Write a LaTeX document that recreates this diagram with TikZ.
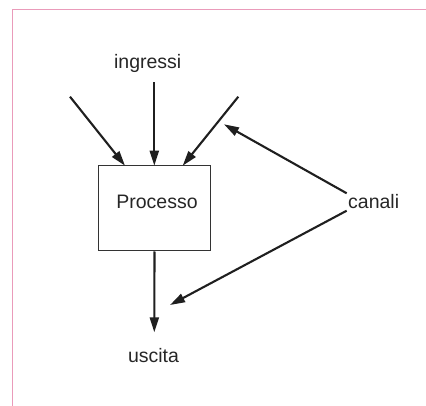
\documentclass[tikz,border=0pt]{standalone}
\usepackage{fontspec}
\setmainfont{Liberation Sans}
\usetikzlibrary{arrows.meta}
\definecolor{framepink}{RGB}{234,155,186}
\tikzset{
  lbl/.style={inner sep=0pt, text=black!85, font=\fontsize{19.5}{22}\selectfont},
  flow/.style={line width=2.1pt, draw=black!88, -{Triangle[length=15pt,width=9pt]}},
  procbox/.style={draw=black!80, line width=1.6pt, minimum width=112pt, minimum height=85pt, inner sep=0pt}
}
\begin{document}
\begin{tikzpicture}[x=1pt,y=-1pt]
\useasboundingbox (0,0) rectangle (426,406);
% page frame (only top and left edges fall inside the picture)
\draw[framepink, line width=1.5pt] (12.7,420) -- (12.7,9.5) -- (440,9.5);

\node[procbox] (proc) at (154.5,208.2) {};
\node[lbl] (proclbl) at (157,201.5) {Processo};
\node[lbl] (in) at (147.7,63.3) {ingressi};
\node[lbl] (out) at (153.5,356) {uscita};
\node[lbl, anchor=west] (can) at (348,202) {canali};

\coordinate (inL) at (70,96.7);
\coordinate (inM) at (154.3,82.3);
\coordinate (inR) at (238.3,96.7);
\coordinate (tL) at (125,165.7);
\coordinate (tM) at (154.3,165.7);
\coordinate (tR) at (182.7,165.7);
\coordinate (c1) at (224,124.3);
\coordinate (c2) at (170,305);
\coordinate (o2) at (154.3,332.3);
\coordinate (cs1) at (346.7,193.3);
\coordinate (cs2) at (346.7,210.7);

\draw[flow] (inL) -- (tL);
\draw[flow] (inM) -- (tM);
\draw[flow] (inR) -- (tR);
\draw[flow] (proc.south) -- (o2);
\draw[flow] (cs1) -- (c1);
\draw[flow] (cs2) -- (c2);
\end{tikzpicture}
\end{document}
